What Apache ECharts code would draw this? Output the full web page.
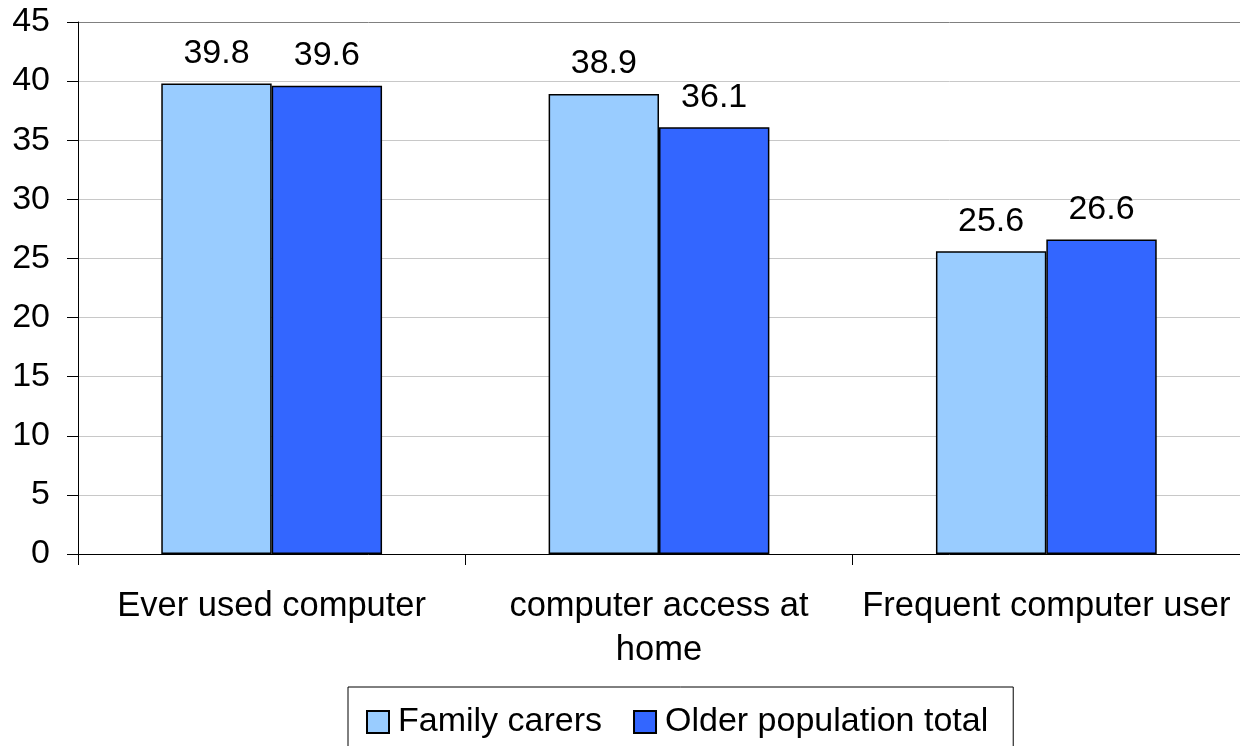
<!DOCTYPE html>
<html>
<head>
<meta charset="utf-8">
<script src="https://cdn.jsdelivr.net/npm/echarts@6/dist/echarts.min.js"></script>
<style>
  html, body { margin: 0; padding: 0; background: #fff; }
  #chart { width: 1240px; height: 746px; }
</style>
</head>
<body>
<div id="chart"></div>
<script>
// chart data
const categories = ['Ever used computer', 'computer access at\nhome', 'Frequent computer user'];
const familyCarers = [39.8, 38.9, 25.6];
const olderPopulation = [39.6, 36.1, 26.6];
const yTicks = [0, 5, 10, 15, 20, 25, 30, 35, 40, 45];

const font = 'Liberation Sans, Arial, sans-serif';

const myChart = echarts.init(document.getElementById('chart'));

let option = {
    animation: false,
    backgroundColor: '#fff',
    textStyle: { fontFamily: font, color: '#000' },
    grid: { left: 78, right: 0, top: 22, bottom: 192 },
    legend: {
        left: 348,
        top: 687,
        padding: [18, 25, 20, 18],
        itemGap: 31,
        itemWidth: 22,
        itemHeight: 22,
        icon: 'rect',
        borderColor: '#000',
        borderWidth: 1,
        textStyle: { fontSize: 34, color: '#000', fontFamily: font, padding: [0, 0, 0, 4] },
        data: ['Family carers', 'Older population total']
    },
    xAxis: {
        type: 'category',
        data: categories,
        axisLine: { lineStyle: { color: '#000', width: 1 } },
        axisTick: { show: true, length: 11, lineStyle: { color: '#000' } },
        axisLabel: {
            interval: 0,
            hideOverlap: false,
            fontSize: 34.5,
            color: '#000',
            margin: 30,
            lineHeight: 44,
            fontFamily: font
        }
    },
    yAxis: {
        type: 'value',
        min: yTicks[0],
        max: yTicks[yTicks.length - 1],
        interval: 5,
        axisLine: { show: true, lineStyle: { color: '#000', width: 1 } },
        axisTick: { show: true, length: 11, lineStyle: { color: '#000' } },
        axisLabel: { fontSize: 34, color: '#000', margin: 28, fontFamily: font },
        splitLine: {
            lineStyle: {
                color: ['#c8c8c8', '#c8c8c8', '#c8c8c8', '#c8c8c8', '#c8c8c8',
                        '#c8c8c8', '#c8c8c8', '#c8c8c8', '#c8c8c8', '#808080'],
                width: 1
            }
        }
    },
    series: [
        {
            name: 'Family carers',
            type: 'bar',
            data: familyCarers,
            barGap: '0%',
            barCategoryGap: '43%',
            itemStyle: { color: '#99ccff', borderColor: '#000', borderWidth: 1.5 },
            label: { show: true, position: 'top', distance: 13, fontSize: 34, color: '#000', fontFamily: font }
        },
        {
            name: 'Older population total',
            type: 'bar',
            data: olderPopulation,
            barGap: '0%',
            barCategoryGap: '43%',
            itemStyle: { color: '#3366ff', borderColor: '#000', borderWidth: 1.5 },
            label: { show: true, position: 'top', distance: 13, fontSize: 34, color: '#000', fontFamily: font }
        }
    ]
};

myChart.setOption(option);
window.addEventListener('resize', () => {
    myChart.resize();
});
</script>
</body>
</html>
